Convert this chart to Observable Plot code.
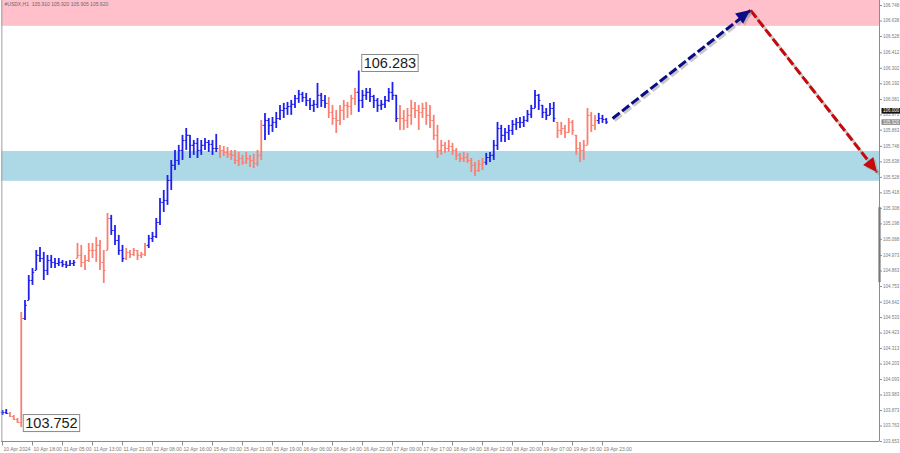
<!DOCTYPE html>
<html><head><meta charset="utf-8">
<script src="https://cdn.jsdelivr.net/npm/d3@7"></script>
<script src="https://cdn.jsdelivr.net/npm/@observablehq/plot@0.6"></script>
<style>
body{margin:0;background:#fff;}
svg{display:block;}
</style>
</head><body><div id="chart"></div>
<script>
// ---------------- data ----------------
const titleText = "#USDX,H1  105.910 105.920 105.905 105.920";

const highs = [
103.873,103.880,103.859,103.838,103.816,104.569,
104.654,104.831,104.881,105.009,105.030,104.995,104.974,104.974,104.952,104.952,104.938,104.931,104.938,104.938,
105.059,105.045,104.974,105.059,105.059,105.101,105.080,105.009,105.272,
105.258,105.186,105.116,105.045,
105.023,105.009,105.023,105.009,104.995,105.059,
105.116,105.137,105.236,105.378,105.435,105.541,105.648,105.719,105.755,105.826,105.875,105.826,105.790,105.804,105.790,105.804,105.790,105.790,105.833,
105.755,105.747,105.740,105.719,105.719,105.705,105.684,105.705,105.684,105.691,105.719,105.932,
105.982,105.946,105.953,105.989,106.039,106.053,106.060,106.074,106.110,106.145,106.131,106.124,106.088,106.074,106.195,106.124,106.110,
106.095,106.039,106.003,106.039,106.074,106.060,106.110,106.159,
106.283,106.145,106.159,106.159,106.110,106.088,106.074,106.102,106.159,106.202,106.110,
106.039,106.003,106.017,106.074,106.060,106.039,106.053,106.060,106.039,105.968,105.897,105.790,105.776,105.790,105.769,105.733,105.698,105.705,105.698,105.662,105.634,105.648,105.662,
105.698,105.705,105.790,105.918,105.897,105.875,105.897,105.932,105.946,105.953,105.960,106.003,106.039,106.145,106.117,106.039,106.017,106.053,106.060,
105.918,105.918,105.897,105.946,105.932,105.826,105.776,105.790,106.017,105.989,105.968,
105.982,105.968,105.946
];
const lows = [
103.838,103.845,103.823,103.802,103.781,103.752,
104.512,104.654,104.761,104.867,104.924,104.796,104.831,104.881,104.881,104.895,104.888,104.881,104.895,104.895,
104.952,104.888,104.867,104.924,104.952,104.924,104.867,104.775,105.009,
105.116,105.045,104.974,104.924,
104.938,104.952,104.966,104.938,104.952,104.966,
105.023,105.066,105.094,105.186,105.279,105.329,105.435,105.577,105.613,105.648,105.719,105.662,105.684,105.662,105.684,105.719,105.705,105.684,105.705,
105.662,105.676,105.662,105.648,105.620,105.605,105.613,105.620,105.598,105.591,105.605,105.648,
105.790,105.826,105.847,105.875,105.932,105.946,105.968,105.968,106.017,106.053,106.060,106.031,106.003,105.989,106.017,106.024,106.017,
105.946,105.897,105.840,105.897,105.932,105.946,105.968,106.039,
105.989,106.017,106.074,106.060,106.017,105.989,106.003,106.017,106.060,106.074,105.918,
105.861,105.861,105.875,105.897,105.946,105.861,105.946,105.897,105.875,105.790,105.662,105.684,105.698,105.705,105.684,105.648,105.634,105.634,105.627,105.563,105.534,105.563,105.577,
105.613,105.634,105.648,105.719,105.776,105.776,105.790,105.826,105.861,105.875,105.882,105.918,105.946,106.017,106.003,105.946,105.932,105.968,105.918,
105.804,105.826,105.804,105.840,105.826,105.684,105.634,105.648,105.755,105.847,105.861,
105.904,105.911,105.904
];
const closes = [
103.859,103.852,103.830,103.809,103.788,104.526,
104.619,104.796,104.853,104.974,104.952,104.867,104.938,104.924,104.917,104.924,104.910,104.903,104.917,104.924,
104.974,104.924,104.938,105.009,105.009,105.045,104.924,104.867,105.236,
105.151,105.080,105.009,104.952,
104.995,104.981,105.009,104.974,104.981,105.045,
105.094,105.108,105.208,105.350,105.364,105.506,105.613,105.648,105.719,105.790,105.826,105.755,105.769,105.719,105.755,105.776,105.762,105.733,105.733,
105.719,105.705,105.691,105.684,105.648,105.662,105.634,105.662,105.648,105.627,105.684,105.897,
105.932,105.897,105.918,105.946,106.003,106.017,106.031,106.046,106.088,106.117,106.095,106.074,106.039,106.046,106.110,106.074,106.053,
105.989,105.946,105.932,106.003,106.039,106.031,106.088,106.131,
106.074,106.110,106.131,106.102,106.074,106.039,106.046,106.074,106.131,106.110,105.946,
105.946,105.932,105.968,106.017,106.003,105.989,106.017,105.968,105.932,105.826,105.719,105.755,105.733,105.747,105.719,105.684,105.662,105.669,105.648,105.613,105.577,105.620,105.634,
105.669,105.684,105.755,105.875,105.826,105.847,105.861,105.904,105.918,105.918,105.932,105.975,106.017,106.110,106.074,105.989,105.968,106.017,105.946,
105.861,105.875,105.847,105.918,105.861,105.733,105.719,105.755,105.968,105.897,105.932,
105.946,105.939,105.920
];
// wave segments: first bar index of each segment, and its colour class
const waveStarts = [0, 2, 6, 20, 29, 33, 39, 58, 70, 87, 95, 106, 129, 148, 159];
const waveKinds  = ["up","down","up","down","up","down","up","down","up","down","up","down","up","down","up"];

// resistance / support zones
const zoneLow  = [106.600, 105.500];
const zoneHigh = [106.790, 105.712];
const zoneFill = ["#ffc0cb", "#add8e6"];

// forecast path (bar index, price)
const forecastIdx   = [162.7, 199.5, 233.3];
const forecastPrice = [105.946, 106.713, 105.563];
const forecastColors = ["#0b0b86", "#c40a0a"];

// axis labels
const yTickLabels = ["106.748","106.638","106.528","106.412","106.302","106.192","106.081","105.971","105.863","105.748",
  "105.638","105.528","105.418","105.308","105.198","105.088","104.973","104.863","104.753","104.642","104.533",
  "104.423","104.313","104.203","104.093","103.983","103.873","103.763","103.653"];
const xTickLabels = ["10 Apr 2024","10 Apr 18:00","11 Apr 05:00","11 Apr 13:00","11 Apr 21:00","12 Apr 08:00",
  "12 Apr 16:00","15 Apr 03:00","15 Apr 11:00","15 Apr 19:00","16 Apr 06:00","16 Apr 14:00","16 Apr 22:00",
  "17 Apr 09:00","17 Apr 17:00","18 Apr 04:00","18 Apr 12:00","18 Apr 20:00","19 Apr 07:00","19 Apr 15:00","19 Apr 23:00"];
const barsPerLabel = 8;
const priceMarkers = [{p: 106.000, t: "106.000", bg: "#111"}, {p: 105.920, t: "105.920", bg: "#8a8a8a"}];
const scrollRange = [104.780, 105.313];

// ---------------- build ----------------
const bars = highs.map((h, i) => {
  let seg = 0;
  for (let k = 0; k < waveStarts.length; k++) if (i >= waveStarts[k]) seg = k;
  const prev = i ? closes[i - 1] : closes[0];
  return {i, high: h, low: lows[i], close: closes[i], open: Math.min(h, Math.max(lows[i], prev)), wave: waveKinds[seg]};
});
const zones = zoneLow.map((lo, k) => ({lo, hi: zoneHigh[k], fill: zoneFill[k]}));
const legs = [0, 1].map(k => ({x1: forecastIdx[k], y1: forecastPrice[k], x2: forecastIdx[k + 1], y2: forecastPrice[k + 1], c: forecastColors[k]}));

const xMin = -0.267, xMax = 233.87;
const yMin = 103.653, yMax = 106.7835;
const pxY = (yMax - yMin) / 441;
const pxX = (xMax - xMin) / 878;
const xTickIdx = xTickLabels.map((_, k) => k * barsPerLabel);
const extremes = [{i: 95, p: highs[95], dy: -3, dx: 5}, {i: 5, p: lows[5], dy: 0.5, dx: 4}];

const chart = Plot.plot({
  width: 900, height: 453,
  marginLeft: 1, marginRight: 21, marginTop: 0, marginBottom: 12,
  style: {background: "#fff", fontFamily: "'Liberation Sans', Arial, sans-serif"},
  x: {domain: [xMin, xMax], axis: null},
  y: {domain: [yMin, yMax], axis: null},
  color: {domain: ["up", "down"], range: ["#2121ee", "#fa8072"]},
  marks: [
    Plot.rect(zones, {y1: "lo", y2: d => Math.min(d.hi, yMax), fill: d => d.fill}),
    Plot.text([titleText], {frameAnchor: "top-left", dx: 3, dy: 1.5, fontSize: 5, fill: "#6a6a6a"}),
    // bars
    Plot.ruleX(bars, {x: "i", y1: "low", y2: "high", stroke: "wave", strokeWidth: 1.8}),
    Plot.link(bars, {x1: d => d.i - 0.45, x2: "i", y1: "open", y2: "open", stroke: "wave", strokeWidth: 1.1}),
    Plot.link(bars, {x1: "i", x2: d => d.i + 0.45, y1: "close", y2: "close", stroke: "wave", strokeWidth: 1.1}),
    // forecast shadows + arrows
    Plot.link(legs, {x1: "x1", y1: "y1", x2: "x2", y2: "y2", stroke: "#9a9a9a", strokeOpacity: 0.55, strokeWidth: 3, strokeDasharray: "9,3", dx: 2, dy: 2}),
    Plot.link(legs, {x1: "x1", y1: "y1", x2: "x2", y2: "y2", stroke: d => d.c, strokeWidth: 3, strokeDasharray: "9,3"}),
    // frame
    Plot.ruleX([xMin + 0.1], {stroke: "#a0a0a0"}),
    Plot.ruleX([xMax], {stroke: "#8c8c8c"}),
    Plot.ruleX([xMax], {y1: scrollRange[0], y2: scrollRange[1], stroke: "#777", strokeWidth: 2.2}),
    Plot.ruleY([yMin], {stroke: "#8c8c8c"}),
    // right axis
    Plot.link(yTickLabels, {x1: xMax, x2: xMax + 2.5 * pxX, y1: d => +d, y2: d => +d, stroke: "#8c8c8c"}),
    Plot.text(yTickLabels, {x: xMax, y: d => +d, text: d => d, dx: 3.5, textAnchor: "start", fontSize: 4.5, fill: "#7a7a7a"}),
    Plot.text(priceMarkers, {x: xMax, y: "p", text: "t", dx: 3.5, textAnchor: "start", fontSize: 4.5, fill: "#fff", className: "pmark"}),
    // bottom axis
    Plot.link(xTickIdx, {x1: d => d, x2: d => d, y1: yMin, y2: yMin - 4 * pxY, stroke: "#8c8c8c"}),
    Plot.text(xTickLabels, {x: (d, k) => xTickIdx[k], y: yMin, text: d => d, dy: 7.5, dx: 1, textAnchor: "start", fontSize: 5, fill: "#7a7a7a"}),
    // extreme labels
    Plot.text(extremes, {x: "i", y: "p", text: d => d.p.toFixed(3), textAnchor: "start", fontSize: 14.5, fill: "#1a1a1a", className: "xbox"})
  ]
});
document.getElementById("chart").append(chart);

const svgNS = "http://www.w3.org/2000/svg";
function boxBehind(textEl, fill, stroke, px, py) {
  const b = textEl.getBBox();
  const r = document.createElementNS(svgNS, "rect");
  d3.select(r).attr("x", b.x - px).attr("y", b.y - py).attr("width", b.width + 2 * px).attr("height", b.height + 2 * py)
    .attr("fill", fill).attr("stroke", stroke || "none").attr("stroke-width", 1);
  const tr = textEl.getAttribute("transform");
  if (tr) r.setAttribute("transform", tr);
  textEl.parentNode.insertBefore(r, textEl);
}
d3.select(chart).selectAll("g.xbox text").each(function(_, k) {
  const t = d3.select(this);
  t.attr("x", (+t.attr("x") || 0) + extremes[k].dx).attr("y", (+t.attr("y") || 0) + extremes[k].dy);
  boxBehind(this, "#fff", "#8a8a8a", 2, 0.5);
});
d3.select(chart).selectAll("g.pmark text").each(function(_, k) {
  boxBehind(this, priceMarkers[k].bg, null, 1.5, 0.3);
});
// arrowheads
const sx = chart.scale("x"), sy = chart.scale("y");
legs.forEach(l => {
  const x0 = sx.apply(l.x1), y0 = sy.apply(l.y1), x1 = sx.apply(l.x2), y1 = sy.apply(l.y2);
  const a = Math.atan2(y1 - y0, x1 - x0), L = 14, W = 6.5;
  const ux = Math.cos(a), uy = Math.sin(a), nx = -uy, ny = ux;
  const pts = (ox, oy) => [[x1 + ox, y1 + oy], [x1 - L * ux + W * nx + ox, y1 - L * uy + W * ny + oy], [x1 - L * ux - W * nx + ox, y1 - L * uy - W * ny + oy]].map(p => p.join(",")).join(" ");
  d3.select(chart).append("polygon").attr("points", pts(2, 2)).attr("fill", "#9a9a9a").attr("fill-opacity", 0.55);
  d3.select(chart).append("polygon").attr("points", pts(0, 0)).attr("fill", l.c);
});
</script></body></html>
